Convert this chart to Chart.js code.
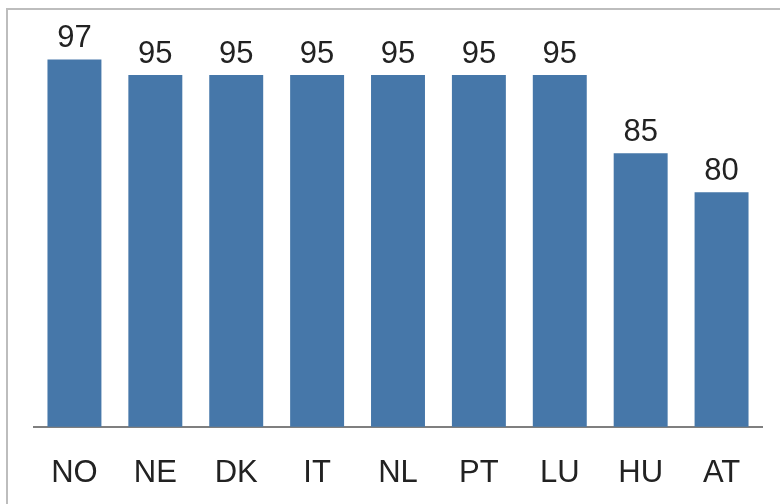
<!DOCTYPE html>
<html>
<head>
<meta charset="utf-8">
<script src="https://cdn.jsdelivr.net/npm/chart.js@4"></script>
<style>
  html, body { margin: 0; padding: 0; background: #fff; }
  #wrap { position: relative; width: 780px; height: 504px; overflow: hidden; }
  #frame { position: absolute; left: 6px; top: 8px; width: 900px; height: 700px;
           border-left: 2px solid #bdbdbd; border-top: 2px solid #bdbdbd; }
  canvas { position: absolute; left: 0; top: 0; }
</style>
</head>
<body>
<div id="wrap">
  <div id="frame"></div>
  <canvas id="chart" width="780" height="530"></canvas>
</div>
<script>
const countries = ['NO', 'NE', 'DK', 'IT', 'NL', 'PT', 'LU', 'HU', 'AT'];
const values = [97, 95, 95, 95, 95, 95, 95, 85, 80];

const FONT = '"Liberation Sans", Arial, sans-serif';

// values written above each bar
const valueLabels = {
  id: 'valueLabels',
  afterDatasetsDraw(chart) {
    const ctx = chart.ctx;
    const meta = chart.getDatasetMeta(0);
    ctx.save();
    ctx.font = '31px ' + FONT;
    ctx.fillStyle = '#222';
    ctx.textAlign = 'center';
    ctx.textBaseline = 'alphabetic';
    meta.data.forEach((bar, i) => {
      ctx.fillText(values[i], bar.x, bar.y - 12);
    });
    ctx.restore();
  }
};

new Chart(document.getElementById('chart'), {
  type: 'bar',
  data: {
    labels: countries,
    datasets: [{
      data: values,
      backgroundColor: '#4677a9',
      barPercentage: 0.667,
      categoryPercentage: 1.0
    }]
  },
  options: {
    responsive: false,
    animation: false,
    layout: { padding: { left: 34, right: 18, top: 36, bottom: 10 } },
    plugins: { legend: { display: false }, tooltip: { enabled: false } },
    scales: {
      x: {
        grid: { display: false, drawTicks: false },
        border: { display: true, color: '#7f7f7f', width: 2 },
        ticks: { color: '#222', padding: 28, font: { family: FONT, size: 31 } }
      },
      y: {
        display: false,
        min: 50,
        max: 100
      }
    }
  },
  plugins: [valueLabels]
});
</script>
</body>
</html>
